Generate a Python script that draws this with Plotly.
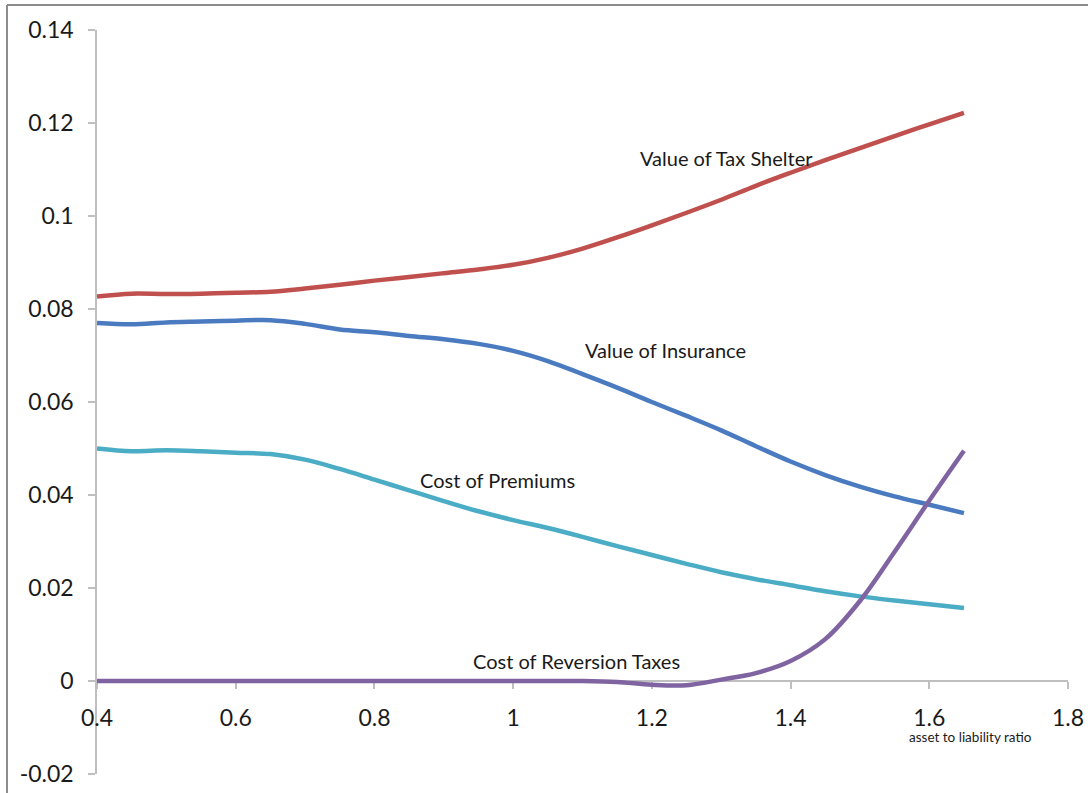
import plotly.graph_objects as go

# asset-to-liability ratio grid
ratio = [0.40, 0.45, 0.50, 0.55, 0.60, 0.65, 0.70, 0.75, 0.80, 0.85, 0.90, 0.95, 1.00,
         1.05, 1.10, 1.15, 1.20, 1.25, 1.30, 1.35, 1.40, 1.45, 1.50, 1.55, 1.60, 1.65]

tax_shelter = [0.0827, 0.0833, 0.0832, 0.0833, 0.0835, 0.0837, 0.0844, 0.0852, 0.0861,
               0.0869, 0.0877, 0.0885, 0.0895, 0.0910, 0.0930, 0.0954, 0.0980, 0.1007,
               0.1035, 0.1065, 0.1093, 0.1120, 0.1146, 0.1172, 0.1197, 0.1222]

insurance = [0.0770, 0.0767, 0.0771, 0.0773, 0.0775, 0.0776, 0.0768, 0.0756, 0.0750,
             0.0742, 0.0735, 0.0725, 0.0710, 0.0688, 0.0660, 0.0631, 0.0600, 0.0570,
             0.0539, 0.0505, 0.0472, 0.0443, 0.0418, 0.0397, 0.0379, 0.0361]

premiums = [0.0500, 0.0494, 0.0496, 0.0494, 0.0491, 0.0488, 0.0476, 0.0456, 0.0433,
            0.0410, 0.0387, 0.0365, 0.0346, 0.0329, 0.0310, 0.0290, 0.0271, 0.0252,
            0.0234, 0.0219, 0.0206, 0.0193, 0.0182, 0.0173, 0.0165, 0.0157]

reversion_taxes = [0.0, 0.0, 0.0, 0.0, 0.0, 0.0, 0.0, 0.0, 0.0, 0.0, 0.0, 0.0, 0.0,
                   0.0, 0.0, -0.0002, -0.0008, -0.0009, 0.0003, 0.0017, 0.0043, 0.0090,
                   0.0172, 0.0278, 0.0388, 0.0495]

x_ticks = [0.4, 0.6, 0.8, 1.0, 1.2, 1.4, 1.6, 1.8]
x_tick_text = ["0.4", "0.6", "0.8", "1", "1.2", "1.4", "1.6", "1.8"]
y_ticks = [-0.02, 0, 0.02, 0.04, 0.06, 0.08, 0.1, 0.12, 0.14]
y_tick_text = ["-0.02", "0", "0.02", "0.04", "0.06", "0.08", "0.1", "0.12", "0.14"]

FONT = "Lato, 'Open Sans', sans-serif"
AXIS_GRAY = "#BFBFBF"
TEXT = "#1a1a1a"

series = [
    ("Value of Tax Shelter", tax_shelter, "#C0504D"),
    ("Value of Insurance", insurance, "#4A7BC0"),
    ("Cost of Premiums", premiums, "#4BACC6"),
    ("Cost of Reversion Taxes", reversion_taxes, "#8064A2"),
]

fig = go.Figure()
for name, values, color in series:
    fig.add_trace(go.Scatter(
        x=ratio, y=values, name=name, mode="lines",
        line=dict(color=color, width=4.5, shape="spline", smoothing=1.0),
        hoverinfo="x+y+name",
    ))

# in-chart series labels
labels = [
    ("Value of Tax Shelter", 1.308, 0.1125),
    ("Value of Insurance", 1.219, 0.0712),
    ("Cost of Premiums", 0.978, 0.0432),
    ("Cost of Reversion Taxes", 1.091, 0.0043),
]
for text, lx, ly in labels:
    fig.add_annotation(x=lx, y=ly, text=text, showarrow=False,
                       font=dict(family=FONT, size=20, color=TEXT))

fig.add_annotation(x=1.659, y=-0.0121, text="asset to liability ratio", showarrow=False,
                   font=dict(family=FONT, size=13.5, color=TEXT))

# outer frame (top and left edges)
frame = dict(color="#8C8C8C", width=2)
fig.add_shape(type="line", xref="paper", yref="paper",
              x0=-0.0927, x1=1.03, y0=1.0336, y1=1.0336, line=frame)
fig.add_shape(type="line", xref="paper", yref="paper",
              x0=-0.0927, x1=-0.0927, y0=1.0336, y1=-0.04, line=frame)

fig.update_layout(
    width=1088, height=793,
    margin=dict(l=97, r=20, t=30, b=19, autoexpand=False),
    paper_bgcolor="white", plot_bgcolor="white",
    showlegend=False,
    font=dict(family=FONT, color=TEXT),
    xaxis=dict(
        range=[0.4, 1.8], tickvals=x_ticks, ticktext=x_tick_text,
        anchor="free", position=0.125, automargin=False,
        showline=True, linecolor=AXIS_GRAY, linewidth=1.5,
        ticks="outside", ticklen=7, tickcolor=AXIS_GRAY, tickwidth=1.5,
        showgrid=False, zeroline=False, layer="below traces",
        tickfont=dict(family=FONT, size=23, color=TEXT),
        ticklabelstandoff=10,
    ),
    yaxis=dict(
        range=[-0.02, 0.14], tickvals=y_ticks, ticktext=y_tick_text,
        automargin=False,
        showline=True, linecolor=AXIS_GRAY, linewidth=1.5,
        ticks="outside", ticklen=7, tickcolor=AXIS_GRAY, tickwidth=1.5,
        showgrid=False, zeroline=False, layer="below traces",
        tickfont=dict(family=FONT, size=23, color=TEXT),
        ticklabelstandoff=10,
    ),
)

fig.write_html("out.html")
